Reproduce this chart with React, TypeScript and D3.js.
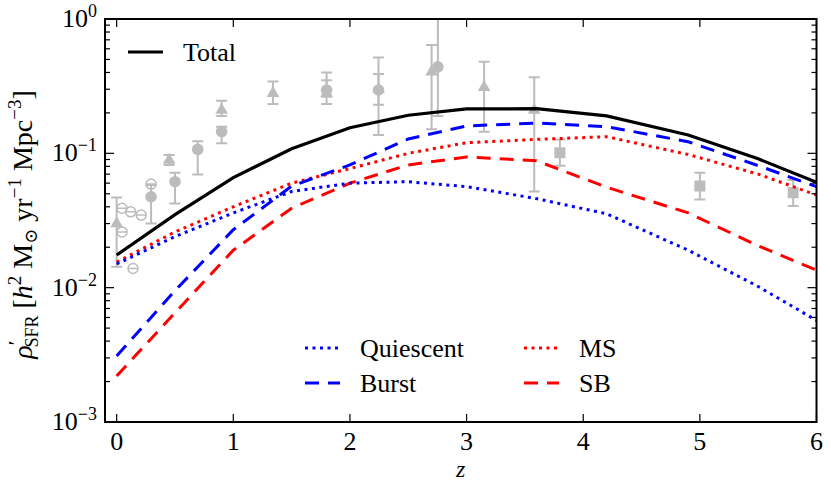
import React from "react";
import * as d3 from "d3";

// model redshift knots and the five model curves
const zModel = [0, 0.5, 1, 1.5, 2, 2.5, 3, 3.6, 4.2, 4.9, 5.5, 6];
const total = [0.0175, 0.035, 0.066, 0.108, 0.155, 0.192, 0.214, 0.215, 0.19, 0.137, 0.091, 0.061];
const quiescent = [0.015, 0.024, 0.036, 0.052, 0.06, 0.0615, 0.0565, 0.046, 0.0355, 0.019, 0.0102, 0.0057];
const burst = [0.0031, 0.0095, 0.027, 0.057, 0.082, 0.128, 0.16, 0.168, 0.158, 0.122, 0.081, 0.0565];
const ms = [0.0155, 0.026, 0.04, 0.06, 0.077, 0.1, 0.12, 0.127, 0.133, 0.098, 0.07, 0.049];
const sb = [0.0022, 0.0065, 0.019, 0.039, 0.06, 0.082, 0.094, 0.088, 0.056, 0.036, 0.0205, 0.0135];

// observational points [z, value, low, high]
const obsTriangles = [
  [0.0, 0.03, 0.0143, 0.047],
  [0.45, 0.089, 0.082, 0.097],
  [0.9, 0.21, 0.19, 0.246],
  [1.34, 0.28, 0.233, 0.342],
  [1.8, 0.28, 0.264, 0.35],
  [2.245, 0.3, 0.23, 0.39],
  [2.7, 0.405, 0.151, 0.64],
  [3.15, 0.31, 0.145, 0.48],
  [3.58, 0.21, 0.052, 0.368],
];
const obsCircles = [
  [0.295, 0.0475, 0.03, 0.058],
  [0.5, 0.0615, 0.0424, 0.0717],
  [0.695, 0.107, 0.0697, 0.123],
  [0.9, 0.145, 0.119, 0.158],
  [1.8, 0.296, 0.233, 0.4],
  [2.245, 0.296, 0.137, 0.518],
  [2.754, 0.44, 0.19, 1.5],
];
const obsSquares = [
  [3.8, 0.101, 0.081, 0.127],
  [5.0, 0.0571, 0.0454, 0.0717],
  [5.8, 0.0509, 0.0405, 0.0633],
];
const obsOpen = [
  [0.046, 0.039],
  [0.046, 0.026],
  [0.12, 0.0367],
  [0.21, 0.0347],
  [0.14, 0.0139],
  [0.295, 0.059],
];

const xTicks = [0, 1, 2, 3, 4, 5, 6];
const yExponents = [0, -1, -2, -3];

const W = 831;
const H = 495;
const m = { left: 105, right: 816.5, top: 19, bottom: 422 };
const font = "'Liberation Serif', 'Times New Roman', Tinos, 'Noto Serif', 'DejaVu Serif', Times, serif";
const grey = "#bcbcbc";

const x = d3.scaleLinear().domain([-0.1, 6]).range([m.left, m.right]);
const y = d3.scaleLog().domain([1e-3, 1]).range([m.bottom, m.top]);

const series = [
  { name: "Total", vals: total, color: "#000", dash: null },
  { name: "MS", vals: ms, color: "#ff0000", dash: "3,4.5" },
  { name: "SB", vals: sb, color: "#ff0000", dash: "14,9" },
  { name: "Quiescent", vals: quiescent, color: "#0000ff", dash: "3,4.5" },
  { name: "Burst", vals: burst, color: "#0000ff", dash: "14,9" },
];

const ErrBar = ({ d }) => (
  <g stroke={grey} strokeWidth={2}>
    <line x1={x(d[0])} x2={x(d[0])} y1={y(d[2])} y2={y(d[3])} />
    <line x1={x(d[0]) - 5.5} x2={x(d[0]) + 5.5} y1={y(d[2])} y2={y(d[2])} />
    <line x1={x(d[0]) - 5.5} x2={x(d[0]) + 5.5} y1={y(d[3])} y2={y(d[3])} />
  </g>
);

const LegendItem = ({ s, lx, ly }) => (
  <g>
    <line
      x1={lx}
      x2={lx + 35}
      y1={ly}
      y2={ly}
      stroke={s.color}
      strokeWidth={3}
      strokeDasharray={s.dash || undefined}
    />
    <text x={lx + 55} y={ly + 8.5} fontSize={26} style={{ fontFamily: font }}>
      {s.name}
    </text>
  </g>
);

const App = () => {
  const line = d3
    .line<number>()
    .x((d, i) => x(zModel[i]))
    .y((d) => y(d));

  const minor: number[] = [];
  for (let e = -3; e < 0; e++)
    for (let k = 2; k <= 9; k++) minor.push(k * Math.pow(10, e));

  const tri = d3.symbol().type(d3.symbolTriangle).size(70)();
  const byName = (n) => series.find((s) => s.name === n);

  return (
    <svg
      width={W}
      height={H}
      style={{ position: "absolute", left: 0, top: 0, background: "#fff" }}
    >
      <defs>
        <clipPath id="plot">
          <rect x={m.left} y={m.top} width={m.right - m.left} height={m.bottom - m.top} />
        </clipPath>
      </defs>

      <g clipPath="url(#plot)">
        {/* observations */}
        {[...obsTriangles, ...obsCircles, ...obsSquares].map((d, i) => (
          <ErrBar key={"e" + i} d={d} />
        ))}
        {obsTriangles.map((d, i) => (
          <path key={"t" + i} d={tri} transform={`translate(${x(d[0])},${y(d[1])})`} fill={grey} />
        ))}
        {obsCircles.map((d, i) => (
          <circle key={"c" + i} cx={x(d[0])} cy={y(d[1])} r={5.8} fill={grey} />
        ))}
        {obsSquares.map((d, i) => (
          <rect key={"s" + i} x={x(d[0]) - 5.5} y={y(d[1]) - 5.5} width={11} height={11} fill={grey} />
        ))}
        {obsOpen.map((d, i) => (
          <g key={"o" + i} stroke={grey} strokeWidth={1.5} fill="none">
            <circle cx={x(d[0])} cy={y(d[1])} r={5} />
            <line x1={x(d[0]) - 5} x2={x(d[0]) + 5} y1={y(d[1])} y2={y(d[1])} />
          </g>
        ))}

        {/* model curves */}
        {series.map((s) => (
          <path
            key={s.name}
            d={line(s.vals)}
            fill="none"
            stroke={s.color}
            strokeWidth={s.name === "Total" ? 3.2 : 3}
            strokeDasharray={s.dash || undefined}
          />
        ))}
      </g>

      {/* ticks */}
      <g stroke="#000" strokeWidth={1.2}>
        {xTicks.map((t) => (
          <g key={t}>
            <line x1={x(t)} x2={x(t)} y1={m.bottom} y2={m.bottom - 8} />
            <line x1={x(t)} x2={x(t)} y1={m.top} y2={m.top + 8} />
          </g>
        ))}
        {yExponents.map((e) => (
          <g key={e}>
            <line x1={m.left} x2={m.left + 9} y1={y(Math.pow(10, e))} y2={y(Math.pow(10, e))} />
            <line x1={m.right} x2={m.right - 9} y1={y(Math.pow(10, e))} y2={y(Math.pow(10, e))} />
          </g>
        ))}
        {minor.map((v, i) => (
          <g key={i}>
            <line x1={m.left} x2={m.left + 5} y1={y(v)} y2={y(v)} />
            <line x1={m.right} x2={m.right - 5} y1={y(v)} y2={y(v)} />
          </g>
        ))}
      </g>

      <rect
        x={m.left}
        y={m.top}
        width={m.right - m.left}
        height={m.bottom - m.top}
        fill="none"
        stroke="#000"
        strokeWidth={2}
      />

      {/* tick labels */}
      <g style={{ fontFamily: font }} fontSize={26} fill="#000">
        {xTicks.map((t) => (
          <text key={t} x={x(t)} y={450} textAnchor="middle">
            {t}
          </text>
        ))}
        {yExponents.map((e) => (
          <text key={e} x={97} y={y(Math.pow(10, e)) + 8} textAnchor="end">
            10
            <tspan fontSize={18} dy={-10}>
              {e === 0 ? "0" : "\u2212" + -e}
            </tspan>
          </text>
        ))}
        <text
          x={(m.left + m.right) / 2}
          y={477}
          textAnchor="middle"
          fontStyle="italic"
          fontSize={24}
        >
          z
        </text>
        <text
          transform={`translate(32,${(m.top + m.bottom) / 2 + 4}) rotate(-90)`}
          textAnchor="middle"
          fontSize={28}
        >
          <tspan fontStyle="italic">ρ</tspan>
          <tspan fontSize={22} dy={-9}>′</tspan>
          <tspan fontSize={18} dx={-7} dy={15}>SFR</tspan>
          <tspan dy={-6}> [</tspan>
          <tspan fontStyle="italic">h</tspan>
          <tspan fontSize={19} dy={-11}>2</tspan>
          <tspan dy={11}> M</tspan>
          <tspan fontSize={18} dy={5}>⊙</tspan>
          <tspan dy={-5}> yr</tspan>
          <tspan fontSize={19} dy={-11}>−1</tspan>
          <tspan dy={11}> Mpc</tspan>
          <tspan fontSize={19} dy={-11}>−3</tspan>
          <tspan dy={11}>]</tspan>
        </text>
      </g>

      {/* legends */}
      <LegendItem s={byName("Total")} lx={128} ly={52} />
      <LegendItem s={byName("Quiescent")} lx={305} ly={348} />
      <LegendItem s={byName("Burst")} lx={305} ly={383} />
      <LegendItem s={byName("MS")} lx={524} ly={348} />
      <LegendItem s={byName("SB")} lx={524} ly={383} />
    </svg>
  );
};

export default App;
